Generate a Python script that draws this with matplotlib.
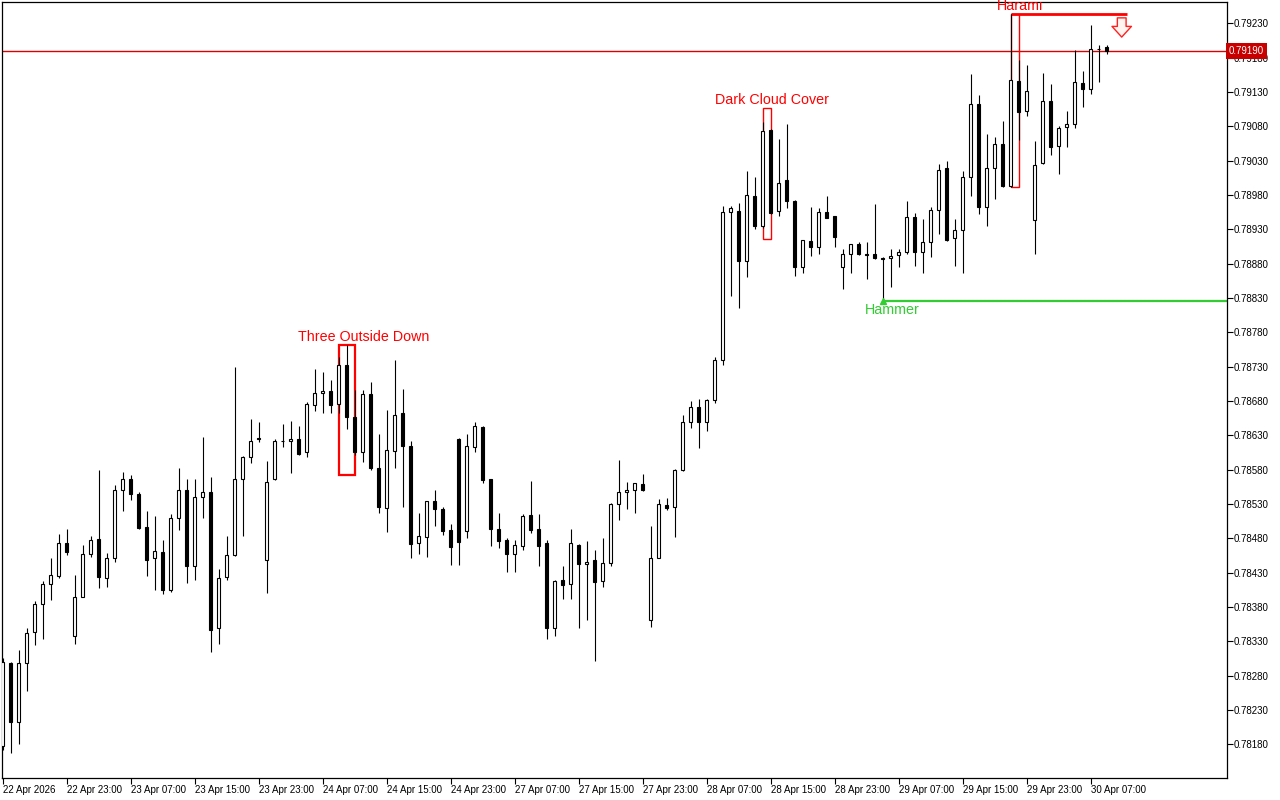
import numpy as np
import matplotlib
matplotlib.use("Agg")
import matplotlib.pyplot as plt
from matplotlib.patches import Rectangle
from matplotlib.transforms import blended_transform_factory

plt.rcParams['font.family'] = ['Liberation Sans', 'DejaVu Sans']

# ---------------- data (hourly OHLC) ----------------
opens = [0.78177, 0.78299, 0.78213, 0.78299, 0.78343, 0.78384, 0.78413, 0.78425, 0.78473, 0.78338,
         0.78394, 0.78457, 0.78479, 0.78422, 0.78452, 0.78550, 0.78566, 0.78545, 0.78496, 0.78451,
         0.78460, 0.78405, 0.78509, 0.78550, 0.78439, 0.78540, 0.78547, 0.78349, 0.78423, 0.78455,
         0.78567, 0.78598, 0.78626, 0.78448, 0.78566, 0.78621, 0.78621, 0.78625, 0.78605, 0.78674,
         0.78691, 0.78695, 0.78675, 0.78733, 0.78656, 0.78605, 0.78690, 0.78582, 0.78524, 0.78607,
         0.78662, 0.78614, 0.78473, 0.78482, 0.78534, 0.78523, 0.78492, 0.78625, 0.78490, 0.78613,
         0.78642, 0.78566, 0.78494, 0.78477, 0.78457, 0.78469, 0.78514, 0.78494, 0.78473, 0.78350,
         0.78419, 0.78413, 0.78470, 0.78442, 0.78448, 0.78418, 0.78444, 0.78530, 0.78547, 0.78550,
         0.78559, 0.78361, 0.78452, 0.78528, 0.78525, 0.78579, 0.78650, 0.78671, 0.78650, 0.78681,
         0.78739, 0.78955, 0.78956, 0.78884, 0.78978, 0.78935, 0.79075, 0.78956, 0.79002, 0.78971,
         0.78875, 0.78913, 0.78904, 0.78955, 0.78949, 0.78875, 0.78894, 0.78908, 0.78894, 0.78894,
         0.78888, 0.78888, 0.78892, 0.78897, 0.78948, 0.78897, 0.78911, 0.78958, 0.79019, 0.78917,
         0.78929, 0.79006, 0.79113, 0.78963, 0.79019, 0.79055, 0.78993, 0.79146, 0.79102, 0.78943,
         0.79026, 0.79117, 0.79052, 0.79079, 0.79084, 0.79143, 0.79134, 0.79192, 0.79196]
highs = [0.78306, 0.78300, 0.78317, 0.78349, 0.78389, 0.78418, 0.78452, 0.78486, 0.78494, 0.78426,
         0.78470, 0.78483, 0.78580, 0.78458, 0.78558, 0.78576, 0.78572, 0.78548, 0.78520, 0.78512,
         0.78478, 0.78515, 0.78582, 0.78566, 0.78566, 0.78627, 0.78569, 0.78435, 0.78483, 0.78730,
         0.78600, 0.78654, 0.78649, 0.78593, 0.78625, 0.78647, 0.78651, 0.78643, 0.78678, 0.78726,
         0.78722, 0.78710, 0.78744, 0.78761, 0.78696, 0.78696, 0.78707, 0.78632, 0.78667, 0.78740,
         0.78697, 0.78622, 0.78517, 0.78535, 0.78550, 0.78525, 0.78501, 0.78626, 0.78632, 0.78650,
         0.78644, 0.78567, 0.78517, 0.78480, 0.78478, 0.78515, 0.78564, 0.78515, 0.78478, 0.78419,
         0.78439, 0.78493, 0.78471, 0.78476, 0.78463, 0.78480, 0.78531, 0.78594, 0.78562, 0.78561,
         0.78574, 0.78498, 0.78537, 0.78539, 0.78581, 0.78659, 0.78680, 0.78683, 0.78683, 0.78744,
         0.78964, 0.78964, 0.78968, 0.79015, 0.79006, 0.79087, 0.79076, 0.79061, 0.79083, 0.78972,
         0.78915, 0.78963, 0.78961, 0.78979, 0.78950, 0.78902, 0.78909, 0.78911, 0.78911, 0.78967,
         0.78890, 0.78901, 0.78901, 0.78971, 0.78954, 0.78945, 0.78963, 0.79025, 0.79029, 0.78945,
         0.79015, 0.79156, 0.79126, 0.79069, 0.79065, 0.79088, 0.79243, 0.79176, 0.79169, 0.79059,
         0.79158, 0.79142, 0.79081, 0.79102, 0.79191, 0.79160, 0.79228, 0.79198, 0.79198]
lows = [0.78172, 0.78167, 0.78180, 0.78257, 0.78324, 0.78333, 0.78390, 0.78422, 0.78455, 0.78326,
        0.78394, 0.78453, 0.78407, 0.78409, 0.78446, 0.78520, 0.78536, 0.78494, 0.78425, 0.78405,
        0.78399, 0.78402, 0.78492, 0.78415, 0.78419, 0.78510, 0.78314, 0.78326, 0.78419, 0.78454,
        0.78484, 0.78589, 0.78620, 0.78401, 0.78565, 0.78613, 0.78575, 0.78601, 0.78599, 0.78666,
        0.78663, 0.78662, 0.78662, 0.78639, 0.78601, 0.78591, 0.78579, 0.78517, 0.78489, 0.78582,
        0.78526, 0.78452, 0.78457, 0.78453, 0.78498, 0.78485, 0.78441, 0.78441, 0.78480, 0.78606,
        0.78561, 0.78469, 0.78466, 0.78431, 0.78431, 0.78463, 0.78488, 0.78440, 0.78333, 0.78338,
        0.78392, 0.78392, 0.78350, 0.78361, 0.78302, 0.78409, 0.78439, 0.78506, 0.78523, 0.78517,
        0.78549, 0.78351, 0.78451, 0.78521, 0.78482, 0.78578, 0.78641, 0.78612, 0.78637, 0.78677,
        0.78733, 0.78833, 0.78816, 0.78860, 0.78931, 0.78932, 0.78953, 0.78950, 0.78961, 0.78862,
        0.78867, 0.78891, 0.78894, 0.78946, 0.78904, 0.78843, 0.78867, 0.78893, 0.78857, 0.78887,
        0.78825, 0.78846, 0.78875, 0.78894, 0.78877, 0.78866, 0.78890, 0.78923, 0.78913, 0.78876,
        0.78867, 0.78979, 0.78953, 0.78935, 0.78974, 0.78992, 0.78992, 0.79060, 0.79095, 0.78894,
        0.79025, 0.79038, 0.79011, 0.79050, 0.79078, 0.79108, 0.79127, 0.79145, 0.79185]
closes = [0.78300, 0.78213, 0.78298, 0.78342, 0.78384, 0.78413, 0.78426, 0.78473, 0.78460, 0.78394,
          0.78457, 0.78478, 0.78424, 0.78452, 0.78550, 0.78566, 0.78545, 0.78495, 0.78449, 0.78461,
          0.78405, 0.78509, 0.78550, 0.78439, 0.78540, 0.78547, 0.78347, 0.78422, 0.78455, 0.78566,
          0.78599, 0.78621, 0.78624, 0.78562, 0.78621, 0.78622, 0.78625, 0.78603, 0.78675, 0.78691,
          0.78695, 0.78674, 0.78733, 0.78657, 0.78605, 0.78690, 0.78583, 0.78526, 0.78608, 0.78659,
          0.78614, 0.78472, 0.78484, 0.78534, 0.78522, 0.78491, 0.78468, 0.78474, 0.78614, 0.78643,
          0.78565, 0.78494, 0.78476, 0.78457, 0.78470, 0.78512, 0.78492, 0.78469, 0.78350, 0.78418,
          0.78412, 0.78473, 0.78442, 0.78446, 0.78417, 0.78444, 0.78530, 0.78547, 0.78550, 0.78560,
          0.78550, 0.78452, 0.78530, 0.78524, 0.78579, 0.78650, 0.78671, 0.78650, 0.78681, 0.78739,
          0.78955, 0.78961, 0.78884, 0.78980, 0.78935, 0.79073, 0.78954, 0.78998, 0.78971, 0.78875,
          0.78914, 0.78904, 0.78955, 0.78947, 0.78919, 0.78894, 0.78908, 0.78894, 0.78892, 0.78888,
          0.78887, 0.78891, 0.78897, 0.78948, 0.78897, 0.78911, 0.78958, 0.79017, 0.78914, 0.78929,
          0.79006, 0.79112, 0.78963, 0.79019, 0.79055, 0.78993, 0.79147, 0.79101, 0.79131, 0.79024,
          0.79117, 0.79050, 0.79078, 0.79083, 0.79144, 0.79134, 0.79192, 0.79193, 0.79190]

time_labels = ["22 Apr 2026", "22 Apr 23:00", "23 Apr 07:00", "23 Apr 15:00", "23 Apr 23:00",
               "24 Apr 07:00", "24 Apr 15:00", "24 Apr 23:00", "27 Apr 07:00", "27 Apr 15:00",
               "27 Apr 23:00", "28 Apr 07:00", "28 Apr 15:00", "28 Apr 23:00", "29 Apr 07:00",
               "29 Apr 15:00", "29 Apr 23:00", "30 Apr 07:00"]
time_label_bars = [0, 8, 16, 24, 32, 40, 48, 56, 64, 72, 80, 88, 96, 104, 112, 120, 128, 136]

price_ticks = [0.78180, 0.78230, 0.78280, 0.78330, 0.78380, 0.78430, 0.78480, 0.78530, 0.78580,
               0.78630, 0.78680, 0.78730, 0.78780, 0.78830, 0.78880, 0.78930, 0.78980, 0.79030,
               0.79080, 0.79130, 0.79180, 0.79230]
current_price = 0.79190

# patterns: (name, first bar, last bar, top, bottom)
pattern_names = ["Three Outside Down", "Dark Cloud Cover", "Harami"]
pattern_first = [42, 95, 126]
pattern_last = [44, 96, 127]
pattern_top = [0.78761, 0.79106, 0.79243]
pattern_bottom = [0.78572, 0.78916, 0.78992]
hammer_bar = 110
hammer_level = 0.78825
signal_bar = 139.9
signal_from, signal_to = 0.79238, 0.79210

# ---------------- figure ----------------
W, H = 1280, 800
fig = plt.figure(figsize=(W / 100, H / 100), dpi=100)
fig.patch.set_facecolor('white')
ax = fig.add_axes([2 / W, 22 / H, 1225 / W, 776 / H])
ax.set_facecolor('white')

o = np.array(opens); h = np.array(highs); l = np.array(lows); c = np.array(closes)
idx = np.arange(len(o))

xmin, xmax = -0.0625, 153.06
ax.set_xlim(xmin, xmax)
ax.set_ylim(0.781309, 0.792611)

# wicks
ax.vlines(idx, l, h, color='black', linewidth=0.8, zorder=3)
# bodies
bull = c >= o
body_bottom = np.minimum(o, c)
body_height = np.abs(c - o)
ax.bar(idx, body_height, bottom=body_bottom, width=0.42,
       color=np.where(bull, 'white', 'black'), edgecolor='black', linewidth=0.8, zorder=4)

# current price line
ax.axhline(current_price, color='#dd0000', linewidth=1.0, zorder=2)

# pattern boxes
lws = [1.6, 1.0, 1.0]
for name, i0, i1, top, bot, lw in zip(pattern_names, pattern_first, pattern_last,
                                       pattern_top, pattern_bottom, lws):
    ax.add_patch(Rectangle((i0, bot), i1 - i0, top - bot, fill=False,
                           edgecolor='#ff0000', linewidth=lw, zorder=2))

# labels of patterns
ax.text(45.2, 0.78773, "Three Outside Down", color='#ff0000', fontsize=10.3,
        ha='center', va='center', zorder=6)
ax.text(96.2, 0.79118, "Dark Cloud Cover", color='#ff0000', fontsize=10.3,
        ha='center', va='center', zorder=6)
ax.text(127.2, 0.79255, "Harami", color='#ff0000', fontsize=10.3,
        ha='center', va='center', zorder=6, clip_on=False)

# Harami top line and sell arrow
ax.hlines(pattern_top[2], pattern_first[2], 140.6, color='#ff0000', linewidth=2.0, zorder=2)
ax.annotate('', xy=(signal_bar, signal_to), xytext=(signal_bar, signal_from),
            arrowprops=dict(arrowstyle='simple,head_length=0.55,head_width=1.0,tail_width=0.45',
                            fc='#fff4f0', ec='#ff2020', lw=1.0, mutation_scale=14,
                            shrinkA=0, shrinkB=0), zorder=6)

# Hammer
ax.hlines(hammer_level, hammer_bar, xmax, color='#32cd32', linewidth=1.6, zorder=2)
ax.plot([hammer_bar], [hammer_level], marker='^', color='#32cd32', markersize=5, zorder=5)
ax.text(111.2, 0.78812, "Hammer", color='#32cd32', fontsize=10.3, ha='center', va='center',
        zorder=6)

# axes styling
for s in ax.spines.values():
    s.set_color('black')
    s.set_linewidth(0.9)

ax.yaxis.tick_right()
ax.set_yticks(price_ticks)
ax.set_yticklabels([f"{p:.5f}" for p in price_ticks])
ax.tick_params(axis='y', direction='out', length=4, width=0.8, labelsize=7, pad=1,
               colors='black')

ax.set_xticks(time_label_bars)
ax.set_xticklabels(time_labels)
for t in ax.get_xticklabels():
    t.set_ha('left')
ax.tick_params(axis='x', direction='out', length=4, width=0.8, labelsize=7, pad=1,
               colors='black')

# current price tag on the price axis
trans = blended_transform_factory(ax.transAxes, ax.transData)
ax.text(1.0015, current_price, f"{current_price:.5f}", transform=trans, color='white',
        fontsize=7, ha='left', va='center', clip_on=False, zorder=10,
        bbox=dict(boxstyle='square,pad=0.3', facecolor='#c80000', edgecolor='none'))

fig.savefig('out.png', dpi=100, facecolor='white')
